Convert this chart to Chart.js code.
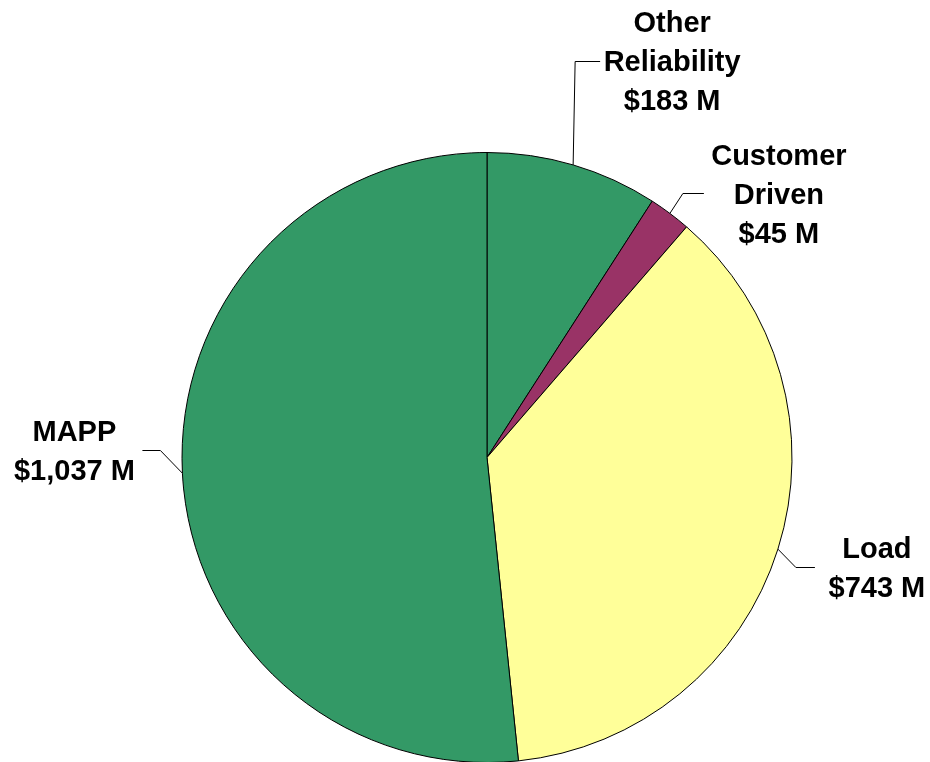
<!DOCTYPE html>
<html>
<head>
<meta charset="utf-8">
<script src="https://cdn.jsdelivr.net/npm/chart.js@4"></script>
<style>
  html, body { margin: 0; padding: 0; background: #fff; }
  #wrap { width: 930px; height: 762px; }
</style>
</head>
<body>
<div id="wrap"><canvas id="pie" width="930" height="762"></canvas></div>
<script>
// data
const categories = [["Other", "Reliability"], ["Customer", "Driven"], ["Load"], ["MAPP"]];
const values = [183, 45, 743, 1037];
const colors = ["#339966", "#993366", "#FFFF99", "#339966"];

// leader line / label placement (relative to the slice's edge midpoint)
const labelLayout = [
  { ex: 2, ey: -104, len: 25, tx: 72 },
  { ex: 13, ey: -20, len: 21, tx: 75 },
  { ex: 18, ey: 18, len: 19, tx: 62 },
  { ex: -22, ey: -23, len: 18, tx: 68 },
];

function money(v) {
  return "$" + v.toLocaleString("en-US") + " M";
}

const sliceLabels = {
  id: "sliceLabels",
  afterDatasetsDraw(chart) {
    const ctx = chart.ctx;
    const meta = chart.getDatasetMeta(0);
    ctx.save();
    ctx.font = "bold 29px 'Liberation Sans', Arial, sans-serif";
    ctx.fillStyle = "#000";
    ctx.strokeStyle = "#000";
    ctx.lineWidth = 1;
    ctx.textAlign = "center";
    ctx.textBaseline = "alphabetic";
    meta.data.forEach((arc, i) => {
      const p = arc.getProps(["x", "y", "startAngle", "endAngle", "outerRadius"], true);
      const mid = (p.startAngle + p.endAngle) / 2;
      const ax = p.x + Math.cos(mid) * p.outerRadius;
      const ay = p.y + Math.sin(mid) * p.outerRadius;
      const lay = labelLayout[i];
      const dir = lay.ex < 0 ? -1 : 1;
      const bx = ax + lay.ex;
      const by = ay + lay.ey;
      const cx = bx + dir * lay.len;
      ctx.beginPath();
      ctx.moveTo(ax, ay);
      ctx.lineTo(bx, Math.round(by) + 0.5);
      ctx.lineTo(cx, Math.round(by) + 0.5);
      ctx.stroke();
      const lines = categories[i].concat([money(values[i])]);
      const tx = cx + dir * lay.tx;
      lines.forEach((t, k) => {
        const capMid = by + (k - (lines.length - 1) / 2) * 39;
        ctx.fillText(t, tx, capMid + 10.5);
      });
    });
    ctx.restore();
  },
};

const ctx = document.getElementById("pie").getContext("2d");
new Chart(ctx, {
  type: "pie",
  data: {
    labels: categories.map((c) => c.join(" ")),
    datasets: [
      {
        data: values,
        backgroundColor: colors,
        borderColor: "#000",
        borderWidth: 1,
        clip: false,
      },
    ],
  },
  options: {
    responsive: false,
    animation: false,
    radius: 305,
    layout: { padding: { left: 44, right: 0, top: 153, bottom: 0 } },
    plugins: {
      legend: { display: false },
      tooltip: { enabled: false },
    },
  },
  plugins: [sliceLabels],
});
</script>
</body>
</html>
